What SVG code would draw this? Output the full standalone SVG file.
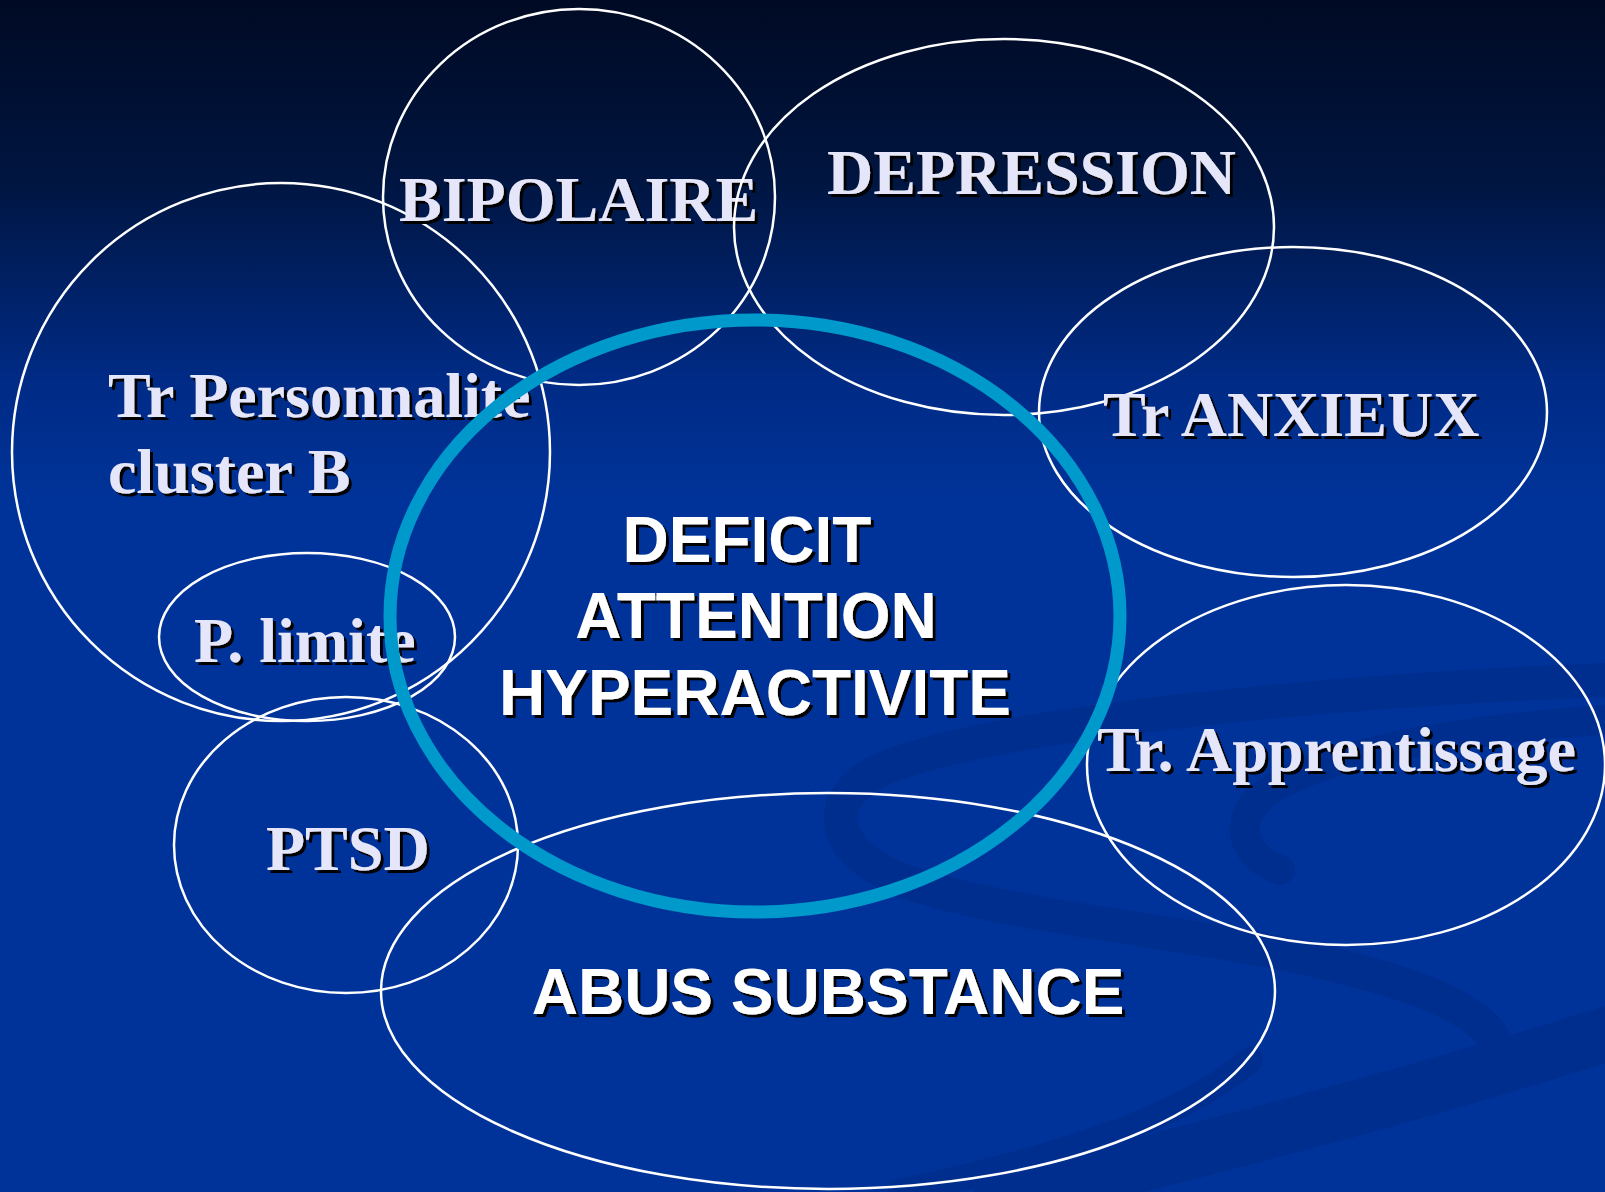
<svg xmlns="http://www.w3.org/2000/svg" width="1605" height="1192" viewBox="0 0 1605 1192">
<defs>
<linearGradient id="bg" x1="0" y1="0" x2="0" y2="1192" gradientUnits="userSpaceOnUse">
<stop offset="0" stop-color="#000a24"/>
<stop offset="0.15" stop-color="#001540"/>
<stop offset="0.32" stop-color="#002b86"/>
<stop offset="0.42" stop-color="#003399"/>
<stop offset="1" stop-color="#003399"/>
</linearGradient>
<filter id="sh" x="-10%" y="-30%" width="120%" height="160%">
<feOffset in="SourceAlpha" dx="3" dy="3" result="o"/>
<feFlood flood-color="#000000"/>
<feComposite in2="o" operator="in" result="s"/>
<feMerge><feMergeNode in="s"/><feMergeNode in="SourceGraphic"/></feMerge>
</filter>
<style>
.ring{fill:none;stroke:#ffffff;stroke-width:2.5}
.core{fill:none;stroke:#0099cc;stroke-width:13}
.serif{font-family:"Liberation Serif","Times New Roman",serif;font-weight:bold;font-size:64px;fill:#e6e6fa;filter:url(#sh)}
.sans{font-family:"Liberation Sans",Arial,sans-serif;font-weight:bold;font-size:64px;fill:#ffffff;filter:url(#sh);text-anchor:middle}
.swirl{fill:none;stroke:#002e8f;stroke-linecap:round}
</style>
</defs>
<rect x="0" y="0" width="1605" height="1192" fill="url(#bg)"/>
<g id="background-swirls">
<path class="swirl" stroke-width="34" d="M1605 680 C1350 690 1000 720 880 770 C820 800 830 850 900 880 C1050 930 1250 930 1420 990 C1520 1030 1520 1070 1430 1090"/>
<path class="swirl" stroke-width="30" d="M1605 720 C1450 730 1280 760 1250 810 C1235 840 1255 860 1280 870"/>
<path class="swirl" stroke-width="55" d="M1000 1200 C1200 1150 1400 1100 1620 1030"/>
<path class="swirl" stroke-width="26" d="M900 1192 C1050 1160 1180 1120 1250 1060"/>
</g>
<g id="node-personnalite">
<ellipse class="ring" cx="281" cy="452" rx="269" ry="269"/>
<text class="serif" x="108" y="417">Tr Personnalite</text>
<text class="serif" x="108" y="493">cluster B</text>
</g>
<g id="node-plimite">
<ellipse class="ring" cx="307" cy="637" rx="148" ry="84"/>
<text class="serif" x="194" y="662">P. limite</text>
</g>
<g id="node-ptsd">
<ellipse class="ring" cx="346" cy="845" rx="172" ry="148"/>
<text class="serif" x="266" y="870">PTSD</text>
</g>
<g id="node-bipolaire">
<ellipse class="ring" cx="579" cy="197" rx="196" ry="188"/>
<text class="serif" x="399" y="221">BIPOLAIRE</text>
</g>
<g id="node-depression">
<ellipse class="ring" cx="1004" cy="227" rx="270" ry="188"/>
<text class="serif" x="827" y="194">DEPRESSION</text>
</g>
<g id="node-anxieux">
<ellipse class="ring" cx="1293" cy="412" rx="254" ry="165"/>
<text class="serif" x="1103" y="436">Tr ANXIEUX</text>
</g>
<g id="node-apprentissage">
<ellipse class="ring" cx="1346" cy="765" rx="259" ry="180"/>
<text class="serif" x="1097" y="771">Tr. Apprentissage</text>
</g>
<g id="node-abus">
<ellipse class="ring" cx="828" cy="991" rx="447" ry="198"/>
<text class="sans" x="828" y="1014">ABUS SUBSTANCE</text>
</g>
<g id="node-deficit">
<ellipse class="core" cx="755" cy="616" rx="365" ry="296"/>
<text class="sans" x="747" y="562">DEFICIT</text>
<text class="sans" x="756" y="638">ATTENTION</text>
<text class="sans" x="755" y="715">HYPERACTIVITE</text>
</g>
<g id="connectors"></g>
</svg>
